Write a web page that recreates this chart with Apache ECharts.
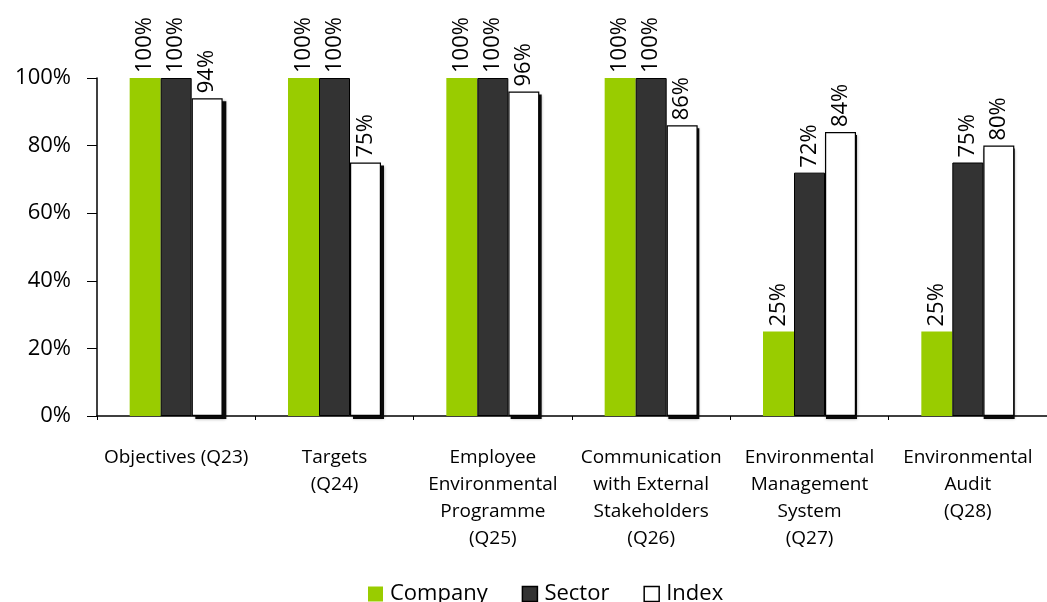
<!DOCTYPE html>
<html>
<head>
<meta charset="utf-8">
<script src="https://cdn.jsdelivr.net/npm/echarts@6/dist/echarts.min.js"></script>
<style>
  html, body { margin: 0; padding: 0; background: #fff; }
  #chart { width: 1047px; height: 602px; }
</style>
</head>
<body>
<div id="chart"></div>
<script>
// categories and values
const categories = [
  'Objectives (Q23)',
  'Targets\n(Q24)',
  'Employee\nEnvironmental\nProgramme\n(Q25)',
  'Communication\nwith External\nStakeholders\n(Q26)',
  'Environmental\nManagement\nSystem\n(Q27)',
  'Environmental\nAudit\n(Q28)'
]
const companyValues = [100, 100, 100, 100, 25, 25]
const sectorValues = [100, 100, 100, 100, 72, 75]
const indexValues = [94, 75, 96, 86, 84, 80]
const yTicks = [0, 20, 40, 60, 80, 100]

const font = '"Open Sans", sans-serif'
const empty = categories.map(() => '-')

const chart = echarts.init(document.getElementById('chart'), null, { renderer: 'canvas' })

// 竖排的数值标签
const valueLabel = {
  show: true,
  position: 'top',
  rotate: 90,
  align: 'left',
  verticalAlign: 'middle',
  distance: 5,
  fontFamily: font,
  fontSize: 22,
  color: '#000',
  formatter: '{c}%'
}

// 阴影用的第二个 grid，整体向右下偏移几个像素
const plot = { left: 97, top: 78, width: 966, height: 338 }
const shadowPlot = { left: plot.left + 4, top: plot.top + 3, width: plot.width, height: plot.height }

const bar = (name, data, extra) => Object.assign({
  name: name,
  type: 'bar',
  data: data,
  barWidth: 31,
  barGap: '0%'
}, extra)

chart.setOption({
  animation: false,
  grid: [plot, shadowPlot],
  legend: {
    top: 578,
    left: 363,
    icon: 'rect',
    itemWidth: 15,
    itemHeight: 15,
    itemGap: 34,
    textStyle: { fontFamily: font, fontSize: 22, color: '#000', padding: [0, 0, 0, 2] },
    data: [
      { name: 'Company' },
      { name: 'Sector', itemStyle: { borderColor: '#000', borderWidth: 1.5 } },
      { name: 'Index', itemStyle: { borderColor: '#000', borderWidth: 1.5 } }
    ]
  },
  xAxis: [
    {
      type: 'category',
      data: categories,
      axisLine: { lineStyle: { color: '#000', width: 1.5 } },
      axisTick: { show: true, length: 4, lineStyle: { color: '#000' } },
      axisLabel: {
        interval: 0,
        margin: 28,
        fontFamily: font,
        fontSize: 19,
        lineHeight: 27,
        color: '#000'
      }
    },
    { type: 'category', data: categories, gridIndex: 1, show: false }
  ],
  yAxis: [
    {
      type: 'value',
      min: yTicks[0],
      max: yTicks[yTicks.length - 1],
      interval: yTicks[1] - yTicks[0],
      axisLine: { show: true, lineStyle: { color: '#000', width: 1.5 } },
      axisTick: { show: true, length: 10, lineStyle: { color: '#000' } },
      splitLine: { show: false },
      axisLabel: {
        margin: 26,
        fontFamily: font,
        fontSize: 22,
        color: '#000',
        formatter: '{value}%'
      }
    },
    {
      type: 'value',
      gridIndex: 1,
      min: yTicks[0],
      max: yTicks[yTicks.length - 1],
      show: false,
      splitLine: { show: false }
    }
  ],
  series: [
    bar('Company', companyValues, {
      itemStyle: { color: '#99cc00' },
      label: valueLabel
    }),
    bar('Sector', sectorValues, {
      itemStyle: { color: '#333333', borderColor: '#000', borderWidth: 1 },
      label: valueLabel
    }),
    bar('Index', indexValues, {
      z: 3,
      itemStyle: { color: '#ffffff', borderColor: '#000', borderWidth: 1.2 },
      label: valueLabel
    }),
    // Index 的投影：画在偏移的 grid 上，位置和主柱子一一对应
    bar('pad1', empty, { xAxisIndex: 1, yAxisIndex: 1, silent: true }),
    bar('pad2', empty, { xAxisIndex: 1, yAxisIndex: 1, silent: true }),
    bar('Index shadow', indexValues, {
      xAxisIndex: 1,
      yAxisIndex: 1,
      silent: true,
      z: 1,
      itemStyle: { color: '#0a0a0a', shadowColor: 'rgba(0,0,0,0.4)', shadowBlur: 3 }
    })
  ]
})
</script>
</body>
</html>
